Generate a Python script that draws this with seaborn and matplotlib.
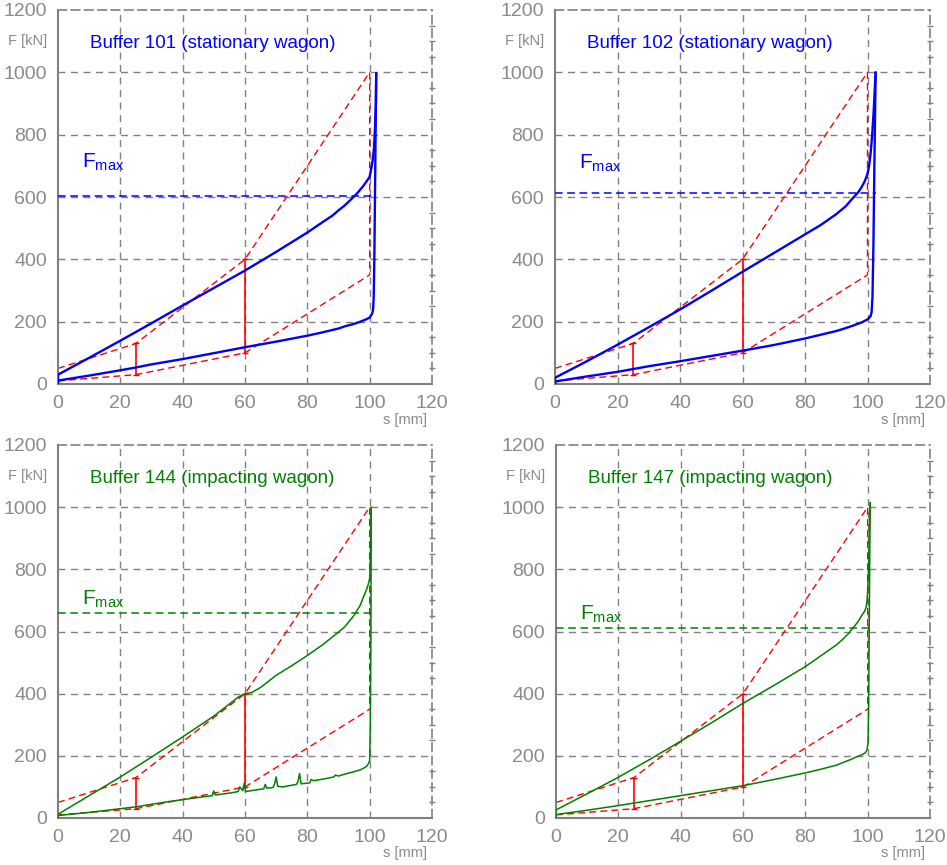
import numpy as np
import pandas as pd
import matplotlib
matplotlib.use("Agg")
import matplotlib.pyplot as plt
import seaborn as sns
from matplotlib.ticker import MultipleLocator

# ---------------- data ----------------
titles = ["Buffer 101 (stationary wagon)", "Buffer 102 (stationary wagon)",
          "Buffer 144 (impacting wagon)", "Buffer 147 (impacting wagon)"]
colors = ["#0000ff", "#0000ff", "#008000", "#008000"]

# Buffer 101
b101_load_s = [0, 0, 10, 20, 30, 40, 50, 60, 70, 80, 85, 88, 90, 92, 94, 96, 98, 99, 100, 100.5, 101,
               101.4, 101.7, 102.0, 102.1]
b101_load_F = [0, 30, 84, 139, 195, 252, 308, 364, 424, 486, 520, 540, 557, 573, 592, 612, 636, 650, 665,
               690, 720, 760, 820, 900, 997]
b101_unl_s = [102.1, 101.9, 101.7, 101.5, 101.3, 101.1, 100.8, 100.3, 100, 99, 97, 95, 92, 90, 85, 80,
              70, 60, 50, 40, 30, 25, 20, 10, 0, 0]
b101_unl_F = [997, 800, 600, 400, 280, 240, 226, 218, 213, 208, 200, 193, 185, 178, 166, 155,
              136, 118, 99, 80, 63, 53, 44, 27, 11, 0]
b101_fmax = 604

# Buffer 102
b102_load_s = [0, 0, 10, 20, 30, 40, 50, 60, 70, 80, 85, 90, 93, 95, 97, 98, 99, 100, 100.5, 101,
               101.5, 102, 102.3, 102.6]
b102_load_F = [0, 20, 72, 126, 182, 239, 299, 360, 420, 480, 510, 545, 570, 593, 615, 630, 648, 674,
               700, 740, 800, 880, 940, 1000]
b102_unl_s = [102.6, 102.2, 101.9, 101.6, 101.3, 101, 100.5, 100, 98, 95, 92, 90, 85, 80, 70, 60, 50,
              40, 30, 25, 20, 10, 0, 0]
b102_unl_F = [1000, 700, 450, 280, 230, 218, 212, 207, 197, 186, 176, 170, 158, 146, 125, 107, 90,
              73, 57, 48, 39, 24, 8, 0]
b102_fmax = 612

# Buffer 144
b144_load_s = [0, 0, 10, 20, 30, 40, 50, 58, 60, 62, 65, 70, 75, 80, 85, 88, 90, 92, 95, 97, 98, 99,
               99.5, 100, 100.2, 100.4, 100.5]
b144_load_F = [0, 12, 72, 132, 196, 261, 328, 390, 400, 403, 420, 459, 490, 523, 558, 582, 598, 615,
               652, 685, 711, 735, 750, 770, 820, 900, 1000]
b144_unl_s = [100.5, 100.4, 100.2, 100, 99.5, 99, 98, 97, 95, 92, 90, 89, 88.5, 85, 82, 81.2, 80.8,
              78, 77.5, 77, 76.5, 72, 70.5, 70, 69.5, 69, 67, 66.5, 66, 62, 60.2, 59.8, 59.3, 58.3,
              57.8, 55, 50.5, 50, 49.5, 45, 40, 35, 30, 25, 20, 10, 0, 0]
b144_unl_F = [1000, 600, 300, 185, 173, 166, 160, 155, 149, 141, 135, 138, 132, 125, 120, 124, 113,
              110, 143, 118, 108, 100, 102, 132, 110, 98, 96, 108, 94, 88, 85, 113, 88, 100,
              85, 80, 74, 87, 72, 66, 59, 52, 44, 36, 30, 18, 8, 0]
b144_fmax = 661

# Buffer 147
b147_load_s = [0, 0, 10, 20, 30, 40, 50, 60, 70, 80, 90, 92, 94, 95, 96, 97, 98, 99, 99.5, 99.8, 100,
               100.3, 100.5, 100.8]
b147_load_F = [0, 26, 78, 131, 188, 247, 307, 369, 427, 487, 557, 575, 595, 608, 620, 633, 650, 665,
               678, 700, 730, 800, 900, 1015]
b147_unl_s = [100.8, 100.5, 100.3, 100.1, 99.8, 99.3, 98, 96, 95, 92, 90, 85, 80, 70, 60, 50, 40, 30,
              25, 20, 10, 0, 0]
b147_unl_F = [1015, 600, 350, 240, 220, 210, 203, 195, 190, 178, 170, 157, 145, 124, 104, 88, 72, 56,
              48, 40, 25, 11, 0]
b147_fmax = 611

# tolerance template (red)
tol_up_s = [0, 25, 60, 100, 100]
tol_up_F = [50, 130, 400, 1000, 350]
tol_lo_s = [0, 25, 60, 100]
tol_lo_F = [10, 30, 100, 350]
bar_s = [25, 60]
bar_lo = [30, 100]
bar_hi = [130, 400]

panels = [
    (b101_load_s, b101_load_F, b101_unl_s, b101_unl_F, b101_fmax),
    (b102_load_s, b102_load_F, b102_unl_s, b102_unl_F, b102_fmax),
    (b144_load_s, b144_load_F, b144_unl_s, b144_unl_F, b144_fmax),
    (b147_load_s, b147_load_F, b147_unl_s, b147_unl_F, b147_fmax),
]

# layout (positions, not data)
fmax_label_y = [712, 708, 703, 656]
line_widths = [1.7, 1.7, 1.1, 1.1]

# ---------------- style ----------------
sns.set_style("white")
plt.rcParams["font.family"] = ["Liberation Sans", "DejaVu Sans"]
plt.rcParams["mathtext.fontset"] = "custom"
plt.rcParams["mathtext.rm"] = "Liberation Sans"

GRAY = "#808080"
TICKGRAY = "#8a8a8a"
fig = plt.figure(figsize=(9.47, 8.65), dpi=100)
W, H = 947, 865
rects = [
    [58 / W, 1 - 384 / H, 374 / W, 374 / H],
    [555 / W, 1 - 384 / H, 375 / W, 374 / H],
    [58 / W, 1 - 818 / H, 374 / W, 373 / H],
    [556 / W, 1 - 818 / H, 374 / W, 373 / H],
]

for i, (ls, lF, us, uF, fmax) in enumerate(panels):
    ax = fig.add_axes(rects[i])
    col = colors[i]
    lw = line_widths[i]

    # grid
    for gx in [20, 40, 60, 80, 100]:
        ax.axvline(gx, color=GRAY, lw=1, ls=(0, (5, 4)), zorder=0)
    for gy in [200, 400, 600, 800, 1000]:
        ax.axhline(gy, color=GRAY, lw=1, ls=(0, (5, 4)), zorder=0)

    # tolerance template
    sns.lineplot(x=tol_up_s, y=tol_up_F, sort=False, estimator=None, color="#ff0000",
                 lw=1.0, ls=(0, (5, 3)), ax=ax, zorder=2)
    sns.lineplot(x=tol_lo_s, y=tol_lo_F, sort=False, estimator=None, color="#ff0000",
                 lw=1.0, ls=(0, (5, 3)), ax=ax, zorder=2)
    for bs, blo, bhi in zip(bar_s, bar_lo, bar_hi):
        ax.plot([bs, bs], [blo, bhi], color="#ff0000", lw=1.2, zorder=2,
                marker="_", markersize=4, markeredgewidth=1.0)

    # Fmax line
    xend = max(ls)
    ax.plot([0, xend], [fmax, fmax], color=col, lw=1.1, ls=(0, (5, 3)), zorder=3)
    ax.text(7.8, fmax_label_y[i], r"$\mathrm{F_{max}}$", color=col, fontsize=15,
            ha="left", va="center")

    # measured curves
    df_l = pd.DataFrame({"s": ls, "F": lF})
    df_u = pd.DataFrame({"s": us, "F": uF})
    sns.lineplot(data=df_l, x="s", y="F", sort=False, estimator=None, color=col, lw=lw, ax=ax, zorder=4)
    sns.lineplot(data=df_u, x="s", y="F", sort=False, estimator=None, color=col, lw=lw, ax=ax, zorder=4)

    # title inside
    ax.text(10.2, 1092, titles[i], color=col, fontsize=13.5, ha="left", va="center")

    # axes
    ax.set_xlim(0, 120)
    ax.set_ylim(0, 1200)
    ax.set_xticks(range(0, 121, 20))
    ax.set_yticks(range(0, 1201, 200))
    ax.xaxis.set_minor_locator(MultipleLocator(5))
    ax.yaxis.set_minor_locator(MultipleLocator(50))
    ax.tick_params(axis="both", which="major", direction="out", length=5, width=1,
                   color=GRAY, labelcolor=TICKGRAY, labelsize=14, pad=3)
    ax.tick_params(axis="both", which="minor", direction="inout", length=5, width=1, color=GRAY)
    ax.tick_params(axis="y", which="minor", right=True)
    ax.set_xlabel("")
    ax.set_ylabel("")
    for side in ["left", "bottom"]:
        ax.spines[side].set_color(GRAY)
        ax.spines[side].set_linewidth(1.5)
    for side in ["top", "right"]:
        ax.spines[side].set_color(GRAY)
        ax.spines[side].set_linewidth(1.2)
        ax.spines[side].set_linestyle((0, (5, 3)))
    ax.text(-0.028, 1100, "F [kN]", transform=ax.get_yaxis_transform(), color=TICKGRAY,
            fontsize=10.5, ha="right", va="center")
    ax.text(0.987, -0.095, "s [mm]", transform=ax.transAxes, color=TICKGRAY,
            fontsize=10.5, ha="right", va="center")
    if ax.get_legend():
        ax.get_legend().remove()

fig.savefig("out.png", dpi=100)
